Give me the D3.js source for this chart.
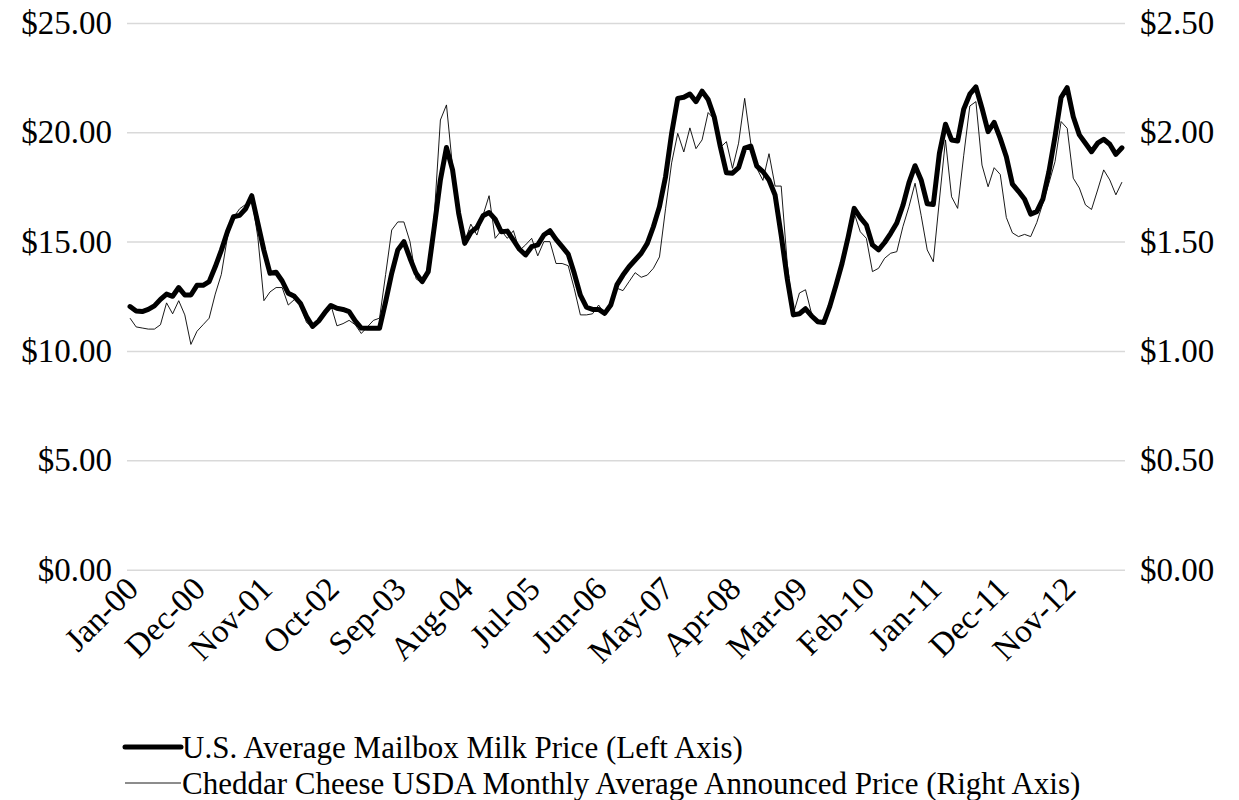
<!DOCTYPE html>
<html><head><meta charset="utf-8">
<script src="https://cdn.jsdelivr.net/npm/d3@7"></script>
<style>
body{margin:0;background:#fff}
text{font-family:"Liberation Serif","Times New Roman",serif;fill:#000}
</style>
</head><body><svg id="c" width="1239" height="800"></svg>
<script>
// U.S. Average Mailbox Milk Price ($/cwt, left axis), Jan-2000 .. Aug-2013
const milk = [
12.03,11.83,11.80,11.90,12.06,12.36,12.60,12.50,12.90,12.56,12.56,13.00,
13.00,13.17,13.85,14.60,15.45,16.14,16.20,16.50,17.10,15.85,14.60,13.55,
13.60,13.20,12.64,12.50,12.18,11.57,11.12,11.37,11.75,12.08,11.95,11.90,
11.80,11.38,11.05,11.04,11.04,11.04,12.25,13.55,14.62,15.00,14.24,13.55,
13.17,13.63,15.68,17.82,19.30,18.28,16.30,14.92,15.42,15.65,16.18,16.33,
16.03,15.45,15.48,15.07,14.65,14.39,14.77,14.85,15.30,15.50,15.10,14.77,
14.43,13.55,12.55,12.00,11.90,11.90,11.72,12.10,13.02,13.47,13.85,14.16,
14.47,14.92,15.68,16.60,17.97,19.95,21.55,21.60,21.75,21.40,21.88,21.50,
20.70,19.34,18.15,18.13,18.38,19.27,19.37,18.45,18.20,17.82,17.13,15.30,
13.30,11.65,11.70,11.93,11.60,11.34,11.30,12.05,13.00,14.00,15.20,16.52,
16.10,15.76,14.85,14.62,14.96,15.38,15.85,16.65,17.70,18.47,17.82,16.73,
16.70,19.04,20.37,19.65,19.60,21.06,21.74,22.07,21.10,20.03,20.45,19.72,
18.88,17.63,17.30,16.94,16.26,16.37,16.94,18.20,19.80,21.59,22.04,20.71,
19.88,19.50,19.11,19.50,19.68,19.45,18.99,19.29
];
// Cheddar Cheese USDA Monthly Average Announced Price ($/lb, right axis)
const cheese = [
1.150,1.110,1.105,1.100,1.100,1.120,1.220,1.170,1.230,1.165,1.030,1.090,
1.120,1.150,1.260,1.350,1.520,1.610,1.650,1.670,1.700,1.520,1.230,1.270,
1.290,1.290,1.210,1.235,1.210,1.130,1.110,1.140,1.170,1.210,1.115,1.125,
1.140,1.120,1.080,1.110,1.140,1.150,1.350,1.553,1.590,1.590,1.500,1.330,
1.310,1.370,1.620,2.056,2.125,1.840,1.620,1.500,1.580,1.530,1.620,1.710,
1.515,1.550,1.515,1.550,1.460,1.485,1.515,1.435,1.500,1.500,1.400,1.400,
1.390,1.285,1.165,1.165,1.170,1.210,1.170,1.210,1.287,1.276,1.317,1.358,
1.337,1.347,1.378,1.430,1.650,1.860,1.995,1.910,2.020,1.925,1.965,2.090,
2.060,1.930,1.957,1.835,1.950,2.155,1.950,1.835,1.780,1.902,1.754,1.754,
1.400,1.170,1.265,1.280,1.170,1.130,1.130,1.200,1.300,1.420,1.520,1.630,
1.545,1.515,1.363,1.378,1.424,1.447,1.454,1.568,1.660,1.767,1.620,1.462,
1.408,1.690,1.965,1.705,1.652,1.895,2.120,2.140,1.850,1.751,1.838,1.807,
1.610,1.540,1.523,1.533,1.523,1.587,1.675,1.767,1.866,2.049,2.018,1.790,
1.745,1.668,1.647,1.736,1.828,1.782,1.714,1.772
];
const months = d3.timeMonths(new Date(2000,0,1), new Date(2013,8,1)).map(d3.timeFormat("%b-%y"));
const tickLabels = ["Jan-00","Dec-00","Nov-01","Oct-02","Sep-03","Aug-04","Jul-05","Jun-06",
  "May-07","Apr-08","Mar-09","Feb-10","Jan-11","Dec-11","Nov-12"];
const leftTicks = [0,5,10,15,20,25];
const rightTicks = [0,0.5,1,1.5,2,2.5];
const seriesNames = ["U.S. Average Mailbox Milk Price (Left Axis)",
  "Cheddar Cheese USDA Monthly Average Announced Price (Right Axis)"];

const L=127, R=1125, T=22.9, B=569.7;
const svg = d3.select("#c");
const x = d3.scaleBand().domain(months).range([L,R]);
const cx = d => x(d) + x.bandwidth()/2;
const yL = d3.scaleLinear().domain([0,25]).range([B,T]);
const yR = d3.scaleLinear().domain([0,2.5]).range([B,T]);
const fmt = d3.format("$.2f");
const FS = "33px";

// gridlines
svg.append("g").attr("transform",`translate(${L},0)`)
  .call(d3.axisLeft(yL).tickValues(leftTicks).tickSize(-(R-L)).tickFormat(""))
  .call(g=>g.select(".domain").remove())
  .call(g=>g.selectAll("line").attr("stroke","#d9d9d9").attr("stroke-width",1.5));

// left axis labels
svg.append("g").attr("transform",`translate(${L},0)`)
  .call(d3.axisLeft(yL).tickValues(leftTicks).tickSize(0).tickPadding(15).tickFormat(fmt))
  .call(g=>g.select(".domain").remove())
  .call(g=>g.selectAll("text").style("font-size",FS).attr("fill","#000"));

// right axis labels
svg.append("g").attr("transform",`translate(${R},0)`)
  .call(d3.axisRight(yR).tickValues(rightTicks).tickSize(0).tickPadding(15).tickFormat(fmt))
  .call(g=>g.select(".domain").remove())
  .call(g=>g.selectAll("text").style("font-size",FS).attr("fill","#000"));

// x axis
svg.append("g").attr("transform",`translate(0,${B})`)
  .call(d3.axisBottom(x).tickValues(tickLabels).tickSize(0))
  .call(g=>g.select(".domain").remove())
  .call(g=>g.selectAll("text")
     .style("font-size",FS).attr("fill","#000")
     .attr("text-anchor","end").attr("x",0).attr("y",0).attr("dy","0.35em")
     .attr("transform","translate(2,13) rotate(-45)"));

// lines
const lineMilk = d3.line().x((d,i)=>cx(months[i])).y(d=>yL(d));
const lineCheese = d3.line().x((d,i)=>cx(months[i])).y(d=>yR(d));
svg.append("path").datum(cheese).attr("d",lineCheese)
  .attr("fill","none").attr("stroke","#000").attr("stroke-width",0.9);
svg.append("path").datum(milk).attr("d",lineMilk)
  .attr("fill","none").attr("stroke","#000").attr("stroke-width",5)
  .attr("stroke-linejoin","round").attr("stroke-linecap","round");

// legend
const lg = svg.append("g");
const rows = [{name:seriesNames[0], w:5, y:747},{name:seriesNames[1], w:0.9, y:783}];
rows.forEach(r=>{
  lg.append("line").attr("x1",125).attr("x2",181).attr("y1",r.y).attr("y2",r.y)
    .attr("stroke","#000").attr("stroke-width",r.w).attr("stroke-linecap",r.w>2?"round":"butt");
  lg.append("text").attr("x",182).attr("y",r.y).attr("dy","0.35em")
    .style("font-size","31px").text(r.name);
});
</script></body></html>
